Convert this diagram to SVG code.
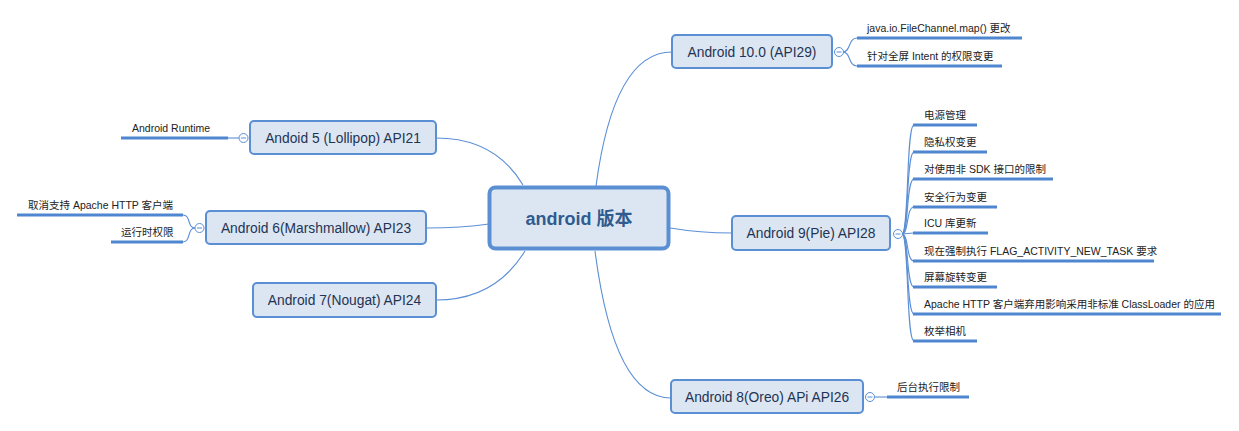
<svg xmlns="http://www.w3.org/2000/svg" width="1239" height="431" viewBox="0 0 1239 431">
<style>
.bg{fill:#ffffff}
.conn{fill:none;stroke:#5b8fd6;stroke-width:1.1}
.ul{fill:none;stroke:#4f86d0;stroke-width:3}
.node{fill:#dce6f2;stroke:#5a8fd3;stroke-width:2}
.root{fill:#dce6f2;stroke:#5a8fd3;stroke-width:4}
.nt{font-family:"Liberation Sans","Noto Sans CJK SC",sans-serif;font-size:13.8px;fill:#1f3455;text-anchor:middle}
.rt{font-family:"Liberation Sans","Noto Sans CJK SC",sans-serif;font-size:18px;font-weight:bold;fill:#2f5b8f;text-anchor:middle}
.ct{font-family:"Liberation Sans","Noto Sans CJK SC",sans-serif;font-size:10.5px;fill:#222222}
.col{fill:#ffffff;stroke:#5b8fd6;stroke-width:1}
.minus{stroke:#5b8fd6;stroke-width:1}
</style>
<rect class="bg" x="0" y="0" width="1239" height="431"/>
<g id="connectors">
  <path class="conn" d="M596,186 Q614,52 672,52"/>
  <path class="conn" d="M523,185 Q495,138 436,138"/>
  <path class="conn" d="M489,224 Q462,228 426,228"/>
  <path class="conn" d="M525,251 Q495,300 436,300"/>
  <path class="conn" d="M595,251 Q614,398 671,398"/>
  <path class="conn" d="M670,228 Q700,233 732,233"/>
  <path class="conn" d="M843,52 C851,52 848,38 857,38"/>
  <path class="conn" d="M843,52 C851,52 848,66 857,66"/>
  <path class="conn" d="M239,138 L228,138"/>
  <path class="conn" d="M195,228 C187,228 191,215 183,215"/>
  <path class="conn" d="M195,228 C187,228 191,242 183,242"/>
  <path class="conn" d="M902,234 C909,234 906,125 914,125"/>
  <path class="conn" d="M902,234 C909,234 906,152 914,152"/>
  <path class="conn" d="M902,234 C909,234 906,179 914,179"/>
  <path class="conn" d="M902,234 C909,234 906,207 914,207"/>
  <path class="conn" d="M902,234 C909,234 906,233 914,233"/>
  <path class="conn" d="M902,234 C909,234 906,261 914,261"/>
  <path class="conn" d="M902,234 C909,234 906,287 914,287"/>
  <path class="conn" d="M902,234 C909,234 906,314 914,314"/>
  <path class="conn" d="M902,234 C909,234 906,341 914,341"/>
  <path class="conn" d="M874,397 L887,397"/>
</g>
<g id="root">
  <rect class="root" x="489.5" y="187.5" width="179" height="61" rx="6"/>
  <text class="rt" x="579" y="225">android 版本</text>
</g>
<g id="android10">
  <rect class="node" x="672" y="35" width="160" height="33" rx="4"/>
  <text class="nt" x="752" y="56.8">Android 10.0 (API29)</text>
  <circle class="col" cx="839" cy="52" r="4.5"/>
  <line class="minus" x1="836.5" y1="52" x2="841.5" y2="52"/>
</g>
<g id="a10c1">
  <line class="ul" x1="857" y1="38" x2="1022" y2="38"/>
  <text class="ct" x="867" y="32">java.io.FileChannel.map() 更改</text>
</g>
<g id="a10c2">
  <line class="ul" x1="857" y1="66" x2="1002" y2="66"/>
  <text class="ct" x="867" y="60">针对全屏 Intent 的权限变更</text>
</g>
<g id="android5">
  <rect class="node" x="250" y="121" width="186" height="33" rx="4"/>
  <text class="nt" x="343" y="142.8">Andoid 5 (Lollipop) API21</text>
  <circle class="col" cx="243.5" cy="138" r="4.5"/>
  <line class="minus" x1="241" y1="138" x2="246" y2="138"/>
</g>
<g id="a5c1">
  <line class="ul" x1="121" y1="138" x2="228" y2="138"/>
  <text class="ct" x="132" y="132">Android Runtime</text>
</g>
<g id="android6">
  <rect class="node" x="206" y="211" width="220" height="33" rx="4"/>
  <text class="nt" x="316" y="232.8">Android 6(Marshmallow) API23</text>
  <circle class="col" cx="199.5" cy="228" r="4.5"/>
  <line class="minus" x1="197" y1="228" x2="202" y2="228"/>
</g>
<g id="a6c1">
  <line class="ul" x1="17" y1="215" x2="183" y2="215"/>
  <text class="ct" x="28" y="209">取消支持 Apache HTTP 客户端</text>
</g>
<g id="a6c2">
  <line class="ul" x1="111" y1="242" x2="183" y2="242"/>
  <text class="ct" x="121" y="236">运行时权限</text>
</g>
<g id="android7">
  <rect class="node" x="253" y="283" width="183" height="34" rx="4"/>
  <text class="nt" x="344.5" y="304.8">Android 7(Nougat) API24</text>
</g>
<g id="android9">
  <rect class="node" x="732" y="216" width="158" height="34" rx="4"/>
  <text class="nt" x="811" y="237.8">Android 9(Pie) API28</text>
  <circle class="col" cx="898" cy="234" r="4.5"/>
  <line class="minus" x1="895.5" y1="234" x2="900.5" y2="234"/>
</g>
<g id="a9c1"><line class="ul" x1="913" y1="125" x2="977" y2="125"/><text class="ct" x="924" y="119">电源管理</text></g>
<g id="a9c2"><line class="ul" x1="913" y1="152" x2="987" y2="152"/><text class="ct" x="924" y="146">隐私权变更</text></g>
<g id="a9c3"><line class="ul" x1="913" y1="179" x2="1053" y2="179"/><text class="ct" x="924" y="173">对使用非 SDK 接口的限制</text></g>
<g id="a9c4"><line class="ul" x1="913" y1="207" x2="997" y2="207"/><text class="ct" x="924" y="201">安全行为变更</text></g>
<g id="a9c5"><line class="ul" x1="913" y1="233" x2="988" y2="233"/><text class="ct" x="924" y="227">ICU 库更新</text></g>
<g id="a9c6"><line class="ul" x1="913" y1="261" x2="1154" y2="261"/><text class="ct" x="924" y="255">现在强制执行 FLAG_ACTIVITY_NEW_TASK 要求</text></g>
<g id="a9c7"><line class="ul" x1="913" y1="287" x2="997" y2="287"/><text class="ct" x="924" y="281">屏幕旋转变更</text></g>
<g id="a9c8"><line class="ul" x1="913" y1="314" x2="1221" y2="314"/><text class="ct" x="924" y="308">Apache HTTP 客户端弃用影响采用非标准 ClassLoader 的应用</text></g>
<g id="a9c9"><line class="ul" x1="913" y1="341" x2="977" y2="341"/><text class="ct" x="924" y="335">枚举相机</text></g>
<g id="android8">
  <rect class="node" x="671" y="380" width="192" height="33" rx="4"/>
  <text class="nt" x="767" y="401.8">Android 8(Oreo) APi API26</text>
  <circle class="col" cx="870" cy="397" r="4.5"/>
  <line class="minus" x1="867.5" y1="397" x2="872.5" y2="397"/>
</g>
<g id="a8c1">
  <line class="ul" x1="887" y1="397" x2="969" y2="397"/>
  <text class="ct" x="897" y="391">后台执行限制</text>
</g>
</svg>
